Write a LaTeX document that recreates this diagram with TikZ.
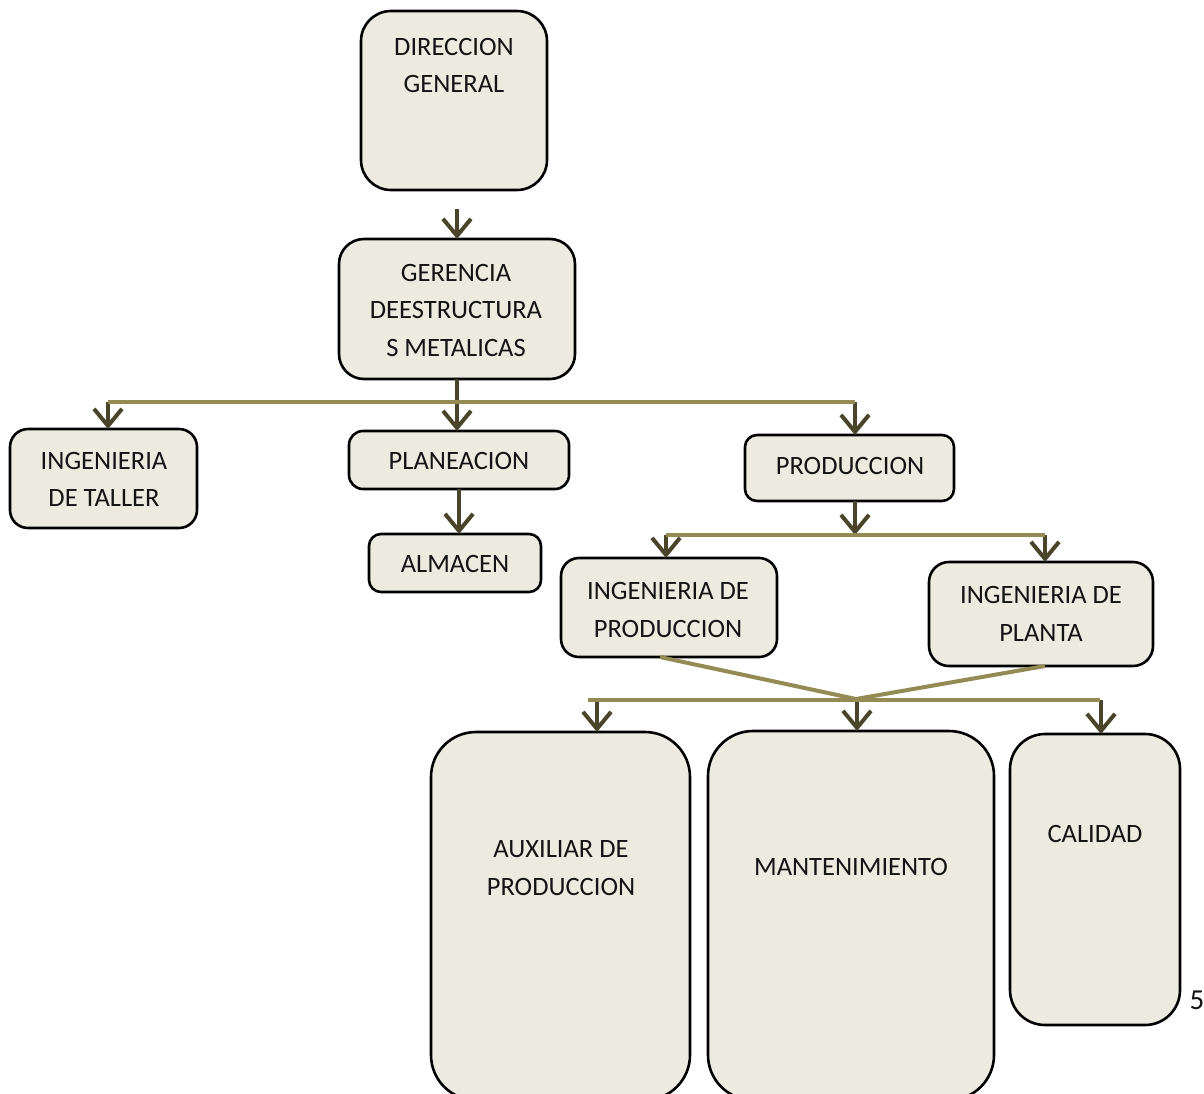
\documentclass[tikz,border=0pt]{standalone}
\usepackage{fontspec}
\setmainfont{Carlito}
\usetikzlibrary{arrows.meta,calc}
\definecolor{boxfill}{HTML}{EDEBE0}
\definecolor{barcol}{HTML}{948A54}
\definecolor{arrcol}{HTML}{4A452A}
\begin{document}
\begin{tikzpicture}[x=1pt,y=-1pt,
  box/.style={draw=black, line width=2.6pt, fill=boxfill, inner sep=0pt, outer sep=0pt},
  txt/.style={font=\fontsize{26.5}{37.5}\selectfont, align=center, inner sep=0pt, text=black!92},
  bar/.style={draw=barcol, line width=4pt},
  arr/.style={draw=arrcol, line width=4pt, -{Straight Barb[length=17pt,width=28pt]}},
]
\useasboundingbox (0,0) rectangle (1204,1093);
\clip (0,0) rectangle (1204,1093);
\fill[white] (0,0) rectangle (1204,1093);

% boxes
\node[box, minimum width=186pt, minimum height=179pt, rounded corners=30pt] (dir) at (454,100.5) {};
\node[box, minimum width=236pt, minimum height=140pt, rounded corners=25pt] (ger) at (457,309) {};
\node[box, minimum width=187pt, minimum height=99pt, rounded corners=18pt] (it) at (103.5,478.5) {};
\node[box, minimum width=220pt, minimum height=58pt, rounded corners=14pt] (plan) at (459,460) {};
\node[box, minimum width=172pt, minimum height=58pt, rounded corners=12pt] (alm) at (455,563) {};
\node[box, minimum width=209pt, minimum height=66pt, rounded corners=12pt] (prod) at (849.5,468) {};
\node[box, minimum width=216pt, minimum height=99pt, rounded corners=18pt] (ip) at (669,607.5) {};
\node[box, minimum width=224pt, minimum height=104pt, rounded corners=20pt] (ipl) at (1041,614) {};
\node[box, minimum width=259pt, minimum height=368pt, rounded corners=45pt] (aux) at (560.5,916) {};
\node[box, minimum width=286pt, minimum height=369pt, rounded corners=45pt] (man) at (851,915.5) {};
\node[box, minimum width=170pt, minimum height=291pt, rounded corners=35pt] (cal) at (1095,879.5) {};

% texts
\node[txt] (dirt) at (454,65.5) {DIRECCION\\GENERAL};
\node[txt] (gert) at (456,310) {GERENCIA\\DEESTRUCTURA\\S METALICAS};
\node[txt] (itt) at (104,479.5) {INGENIERIA\\DE TALLER};
\node[txt] (plant) at (459,461) {PLANEACION};
\node[txt] (almt) at (455,564) {ALMACEN};
\node[txt] (prodt) at (850,466) {PRODUCCION};
\node[txt] (ipt) at (668,610) {INGENIERIA DE\\PRODUCCION};
\node[txt] (iplt) at (1041,614) {INGENIERIA DE\\PLANTA};
\node[txt] (auxt) at (561,868) {AUXILIAR DE\\PRODUCCION};
\node[txt] (mant) at (851,867) {MANTENIMIENTO};
\node[txt] (calt) at (1095,834) {CALIDAD};
\node[txt, font=\fontsize{29}{37.5}\selectfont] (pg) at (1197,1000) {5};

% coordinates on bars
\coordinate (a1) at ($(dir.south)!0.38!(ger.north)$);
\coordinate (b1l) at (108,402);
\coordinate (b1r) at (855,402);
\coordinate (b2m) at (855,535);
\coordinate (b2l) at (666,535);
\coordinate (b2r) at (1045,535);
\coordinate (jn) at (856,699);
\coordinate (b3l) at (597,700);
\coordinate (b3m) at (857,700);
\coordinate (b3r) at (1101,700);

% connectors
\draw[arr] (a1 -| ger.north) -- (ger.north);
\draw[arr] (ger.south) -- (ger.south |- plan.north);
\draw[arr] (plan.south) -- (plan.south |- alm.north);
\draw[arr] (b1l) -- (b1l |- it.north);
\draw[arr] (b1r) -- (b1r |- prod.north);
\draw[bar] (b1l) -- (b1r);

\draw[arr] (prod.south -| b2m) -- (b2m);
\draw[arr] (b2l) -- (b2l |- ip.north);
\draw[arr] (b2r) -- (b2r |- ipl.north);
\draw[bar] (b2l) -- (b2r);

\draw[bar] ($(ip.south)+(-9,0)$) -- (jn) -- ($(ipl.south)+(4,0)$);
\draw[arr] (b3l) -- (b3l |- aux.north);
\draw[arr] (b3m) -- (b3m |- man.north);
\draw[arr] (b3r) -- (b3r |- cal.north);
\draw[bar] (588,700) -- (1100,700);
\end{tikzpicture}
\end{document}
